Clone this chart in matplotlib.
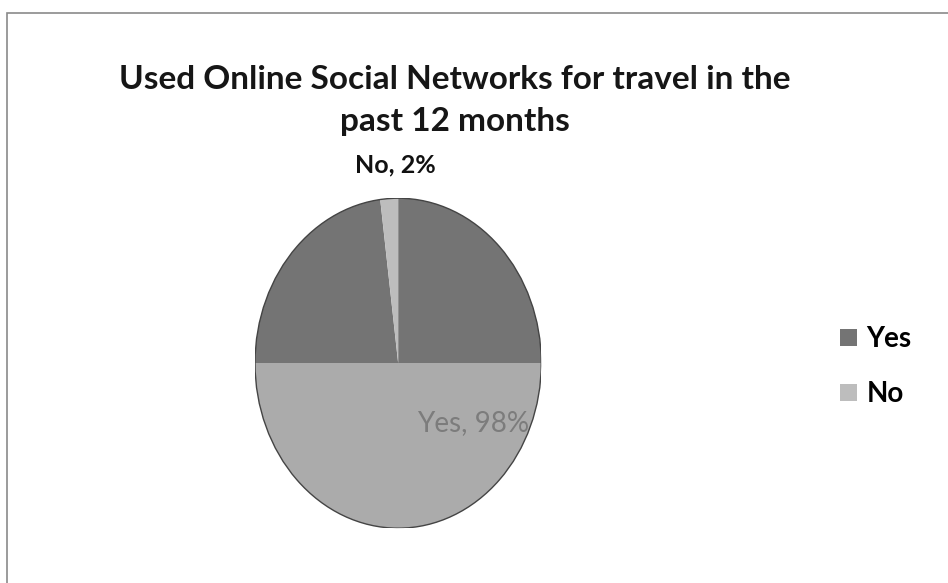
import matplotlib.pyplot as plt
from matplotlib.patches import Rectangle, Ellipse

categories = ['Yes', 'No']
shares = [98, 2]
colors = ['#747474', '#bdbdbd']
title = 'Used Online Social Networks for travel in the\npast 12 months'

plt.rcParams['font.family'] = ['Lato', 'DejaVu Sans']

fig = plt.figure(figsize=(9.48, 5.83), dpi=100)
ax = fig.add_axes([0.269, 0.094, 0.302, 0.566])

wedges, _ = ax.pie(shares, colors=colors, startangle=90, counterclock=False,
                   wedgeprops=dict(linewidth=0))
ax.set_aspect('auto')
ax.set_xlim(-1, 1)
ax.set_ylim(-1, 1)
ax.add_patch(Ellipse((0, 0), 2, 2, fill=False, edgecolor='#444444',
                     linewidth=1.0, zorder=5))

# scan is washed out on the lower half
ax.add_patch(Rectangle((-1.05, -1.05), 2.1, 1.05, color='white', alpha=0.4,
                       zorder=3, linewidth=0))

ax.text(-0.02, 1.2, f'{categories[1]}, {shares[1]}%', ha='center', va='center',
        fontsize=18, fontweight='bold', color='#111111', clip_on=False)
ax.text(0.52, -0.36, f'{categories[0]}, {shares[0]}%', ha='center', va='center',
        fontsize=20, color='#7c7c7c', zorder=4)

fig.text(0.48, 0.828, title, ha='center', va='center', fontsize=24,
         fontweight='bold', color='#161616', linespacing=1.55)

leg = fig.legend(wedges, categories, loc='center left',
                 bbox_to_anchor=(0.86, 0.371), frameon=False,
                 prop={'size': 20, 'weight': 'bold'}, labelspacing=1.05,
                 handlelength=0.6, handleheight=0.6, handletextpad=0.35)
for h in leg.legend_handles:
    h.set_edgecolor('none')

# outer chart border (scanned page crops it on right and bottom)
fig.patches.append(Rectangle((7 / 948, -0.1), 1.1, 1.1 - 13 / 583,
                             transform=fig.transFigure, fill=False,
                             edgecolor='#8a8a8a', linewidth=1.2))

fig.savefig('out.png', dpi=100)
